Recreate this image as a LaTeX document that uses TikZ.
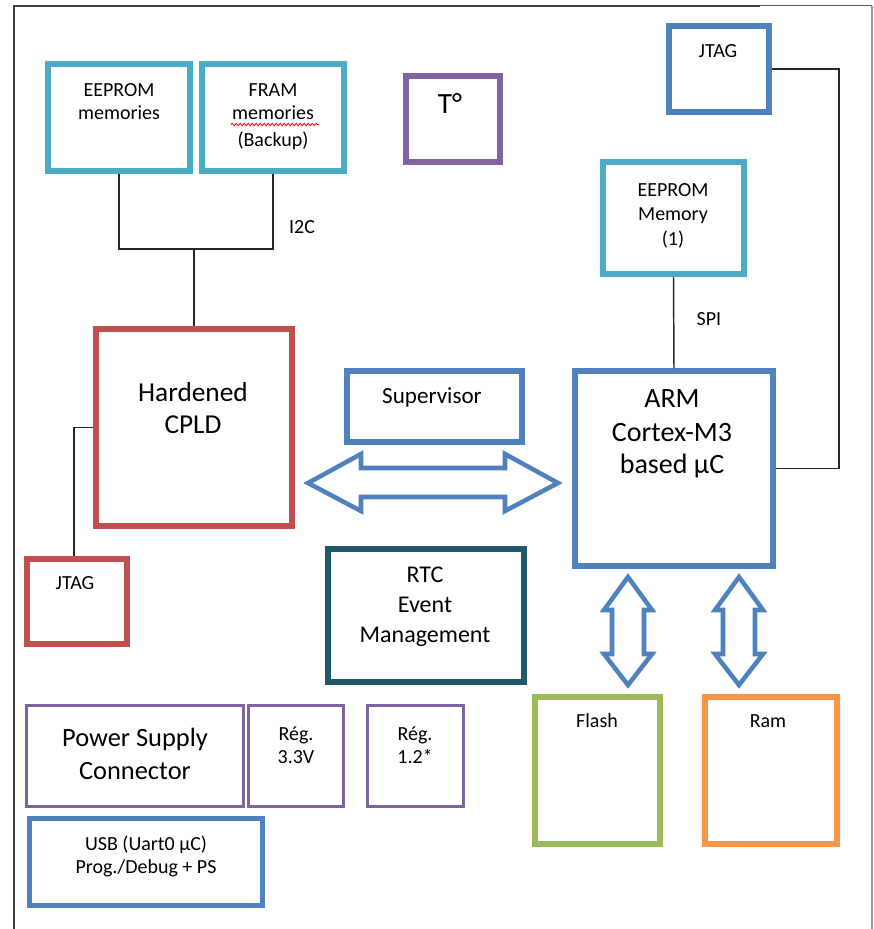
\documentclass[tikz,border=0pt]{standalone}
\usepackage{fontspec}
\setmainfont{Carlito}
\usetikzlibrary{fit,decorations.pathmorphing}
\definecolor{aqua}{HTML}{4BACC6}
\definecolor{cred}{HTML}{C0504D}
\definecolor{cblue}{HTML}{4F81BD}
\definecolor{cpurple}{HTML}{8064A2}
\definecolor{cgreen}{HTML}{9BBB59}
\definecolor{corange}{HTML}{F79646}
\definecolor{dteal}{HTML}{215967}
\newcommand\tl[5]{\node[font=\fontsize{#4}{#4}\selectfont, anchor=base, inner sep=0pt] (#1) at (#2,#3) {#5};}
\tikzset{
  boxthick/.style={draw=#1, line width=4.35pt, inner sep=0pt, rectangle},
  boxthin/.style={draw=#1, line width=2.5pt, inner sep=0pt, rectangle},
  conn/.style={draw=black!85, line width=1.1pt},
  blockarrow/.style={draw=cblue, line width=3.4pt, fill=white, line join=miter},
}
\begin{document}
\begin{tikzpicture}[x=0.75pt, y=-0.75pt]
\useasboundingbox (0,0) rectangle (874,929);
% border
\draw[draw=black!75, line width=1.5pt] (13.5,929) -- (13.5,5.5) -- (760,5.5);
\draw[draw=black!65, line width=1.2pt] (760,5.5) -- (872,5.5);
\draw[draw=black!40, line width=0.8pt] (872,5.5) -- (872,929);

% boxes
\node[boxthick=aqua, fit={(48,64)(190,171)}] (eeprom) {};
\node[boxthick=aqua, fit={(202,64)(344,171)}] (fram) {};
\node[boxthick=cpurple, fit={(406,76)(500,162)}] (temp) {};
\node[boxthick=cblue, fit={(669,26)(769,112)}] (jtag1) {};
\node[boxthick=aqua, fit={(603,162)(744,274)}] (eeprom1) {};
\node[boxthick=cred, fit={(96,329)(292,526)}] (cpld) {};
\node[boxthick=cblue, fit={(347,371)(522,442)}] (sup) {};
\node[boxthick=cblue, fit={(575,371)(773,566)}] (arm) {};
\node[boxthick=cred, fit={(27,559)(127,644)}] (jtag2) {};
\node[boxthick=dteal, fit={(328,549)(524,682)}] (rtc) {};
\node[boxthick=cgreen, fit={(535,697)(660,844)}] (flash) {};
\node[boxthick=corange, fit={(705,697)(837,844)}] (ram) {};
\node[boxthin=cpurple, fit={(26.6,705.6)(243.4,806.4)}] (psc) {};
\node[boxthin=cpurple, fit={(248.6,705.6)(343.4,806.4)}] (reg1) {};
\node[boxthin=cpurple, fit={(367.6,705.6)(463.4,806.4)}] (reg2) {};
\node[draw=cblue, line width=3.9pt, inner sep=0pt, rectangle, fit={(29.6,818.6)(262.4,905.4)}] (usb) {};

% connectors
\coordinate (jn) at (194,249);
\draw[conn] (eeprom.south) |- (jn) -| (fram.south);
\draw[conn] (jn) -- (cpld.north);
\coordinate (jr) at (839,300);
\draw[conn] (jtag1.east) -| (jr) |- (arm.east);
\draw[conn] (eeprom1.south) -- (arm.north);
\coordinate (jl) at (74,500);
\draw[conn] (cpld.west) -| (jl) -- (jl |- jtag2.north);

% block arrows
\draw[blockarrow] (308,483) -- (361,454) -- (361,468) -- (505,468) -- (505,454) -- (558,483)
  -- (505,511) -- (505,497) -- (361,497) -- (361,511) -- cycle;
\draw[blockarrow] (628,577) -- (652,610) -- (644,610) -- (644,654) -- (652,654) -- (628,685)
  -- (604,654) -- (612,654) -- (612,610) -- (604,610) -- cycle;
\draw[blockarrow] (739,577) -- (763,610) -- (755,610) -- (755,654) -- (763,654) -- (739,685)
  -- (715,654) -- (723,654) -- (723,610) -- (715,610) -- cycle;

% texts
\tl{t-ee1}{119}{96}{15}{EEPROM}
\tl{t-ee2}{119}{119}{15}{memories}
\tl{t-fr1}{273}{96}{15}{FRAM}
\tl{t-fr2}{273}{119}{15}{memories}
\tl{t-fr3}{273}{146}{15}{(Backup)}
\draw[red, line width=0.6pt, decorate, decoration={snake, amplitude=0.9pt, segment length=3pt}] (231,124.5) -- (319,124.5);
\tl{t-i2c}{302}{233}{15}{I2C}
\tl{t-temp}{450}{113}{22}{T°}
\tl{t-jt1}{718}{57}{15}{JTAG}
\tl{t-em1}{673}{196}{15}{EEPROM}
\tl{t-em2}{673}{220}{15}{Memory}
\tl{t-em3}{673}{245}{15}{(1)}
\tl{t-spi}{709}{325}{15}{SPI}
\tl{t-cp1}{193}{401}{20.5}{Hardened}
\tl{t-cp2}{193}{433}{20.5}{CPLD}
\tl{t-sup}{432}{403}{17.3}{Supervisor}
\tl{t-jt2}{75}{589}{15}{JTAG}
\tl{t-rtc1}{425}{582}{18}{RTC}
\tl{t-rtc2}{425}{612}{18}{Event}
\tl{t-rtc3}{425}{642}{18}{Management}
\tl{t-arm1}{672}{407}{21}{ARM}
\tl{t-arm2}{672}{441}{21}{Cortex-M3}
\tl{t-arm3}{672}{473}{21}{based µC}
\tl{t-fl}{597}{727}{15}{Flash}
\tl{t-ram}{768}{727}{15}{Ram}
\tl{t-ps1}{135}{746}{19.8}{Power Supply}
\tl{t-ps2}{135}{779}{19.8}{Connector}
\tl{t-r11}{296}{740}{15}{Rég.}
\tl{t-r12}{296}{763}{15}{3.3V}
\tl{t-r21}{415}{740}{15}{Rég.}
\tl{t-r22}{415}{763}{15}{1.2*}
\tl{t-usb1}{146}{850}{15}{USB (Uart0 µC)}
\tl{t-usb2}{146}{873}{15}{Prog./Debug + PS}
\end{tikzpicture}
\end{document}
